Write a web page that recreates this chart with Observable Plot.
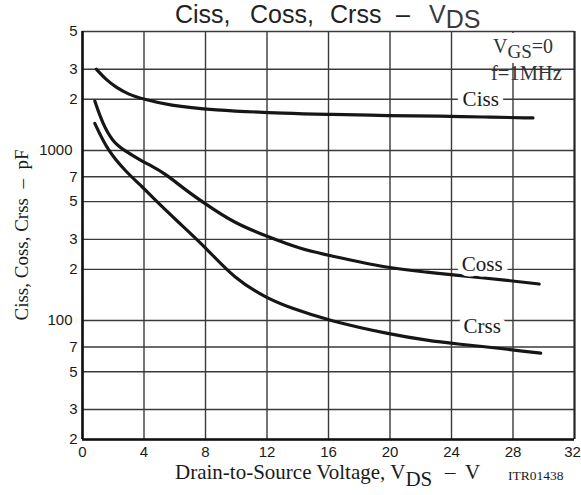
<!DOCTYPE html>
<html><head><meta charset="utf-8">
<script src="https://cdn.jsdelivr.net/npm/d3@7"></script>
<script src="https://cdn.jsdelivr.net/npm/@observablehq/plot@0.6"></script>
<style>
body{margin:0;background:#fff;}
#wrap{position:relative;width:581px;height:495px;overflow:hidden;background:#fff;}
#wrap svg{position:absolute;left:0;top:0;}
.ov{position:absolute;white-space:pre;color:#1a1a1a;line-height:1;}
.serif{font-family:"Liberation Serif","Times New Roman",serif;}
.sans{font-family:"Liberation Sans",Arial,sans-serif;}
.sb{position:relative;top:0.33em;font-size:1em;}
.sb2{position:relative;top:0.28em;font-size:0.95em;}
</style></head><body><div id="wrap"></div>
<script>
// tick values and labels
const xTicks = [0,4,8,12,16,20,24,28,32];
const yTicks = [20,30,50,70,100,200,300,500,700,1000,2000,3000,5000];
const yTickLabels = ["2","3","5","7","100","2","3","5","7","1000","2","3","5"];

// Ciss
const cissV = [0.9,1.5,2.17,3,4,5.65,8.3,13.5,16,20,23.3,26,29.3];
const cissC = [3000,2620,2350,2130,2000,1840,1730,1645,1630,1600,1590,1572,1552];
// Coss
const cossV = [0.8,1.3,1.95,2.7,4,4.4,5.4,6.6,8,9.85,12,14.2,16,20,22.6,24,28,29.7];
const cossC = [1950,1443,1130,1000,851,820,728,595,484,375,312,263,242,202,192,186,171,164];
// Crss
const crssV = [0.8,1.63,2.8,4,4.43,6.16,8,9.85,12,13.5,16,20,22.6,24,28,29.8];
const crssC = [1443,1000,753,598,543,384,270,177,135,119,100,83,76,73.5,67.4,64.3];

// curve labels
const curveNames = ["Ciss","Coss","Crss"];
const labelV = [25.9,26.0,26.0];
const labelC = [2000,214,92];

const toRows = (vs, cs) => vs.map((v,i)=>({v, c: cs[i]}));
const labels = curveNames.map((n,i)=>({n, v: labelV[i], c: labelC[i]}));
const yLab = yTicks.map((t,i)=>({t, s: yTickLabels[i]}));

const lineOpts = {x:"v", y:"c", stroke:"#161616", strokeWidth:3.2, curve:"basis"};
const sans = "'Liberation Sans', Arial, sans-serif";
const serif = "'Liberation Serif', 'Times New Roman', serif";
const tickText = {fontSize:15, fontFamily: sans, fill:"#1a1a1a"};

const chart = Plot.plot({
  width: 581, height: 495,
  marginLeft: 82, marginRight: 7, marginTop: 31, marginBottom: 56,
  style: {fontFamily: sans, fontSize: "15px", color: "#1a1a1a", background: "transparent", overflow: "visible"},
  x: {domain: [0,32], axis: null},
  y: {type: "log", domain: [20,5000], axis: null},
  marks: [
    Plot.ruleX(xTicks, {stroke: "#3a3a3a", strokeWidth: 1.4}),
    Plot.ruleY(yTicks, {stroke: "#3a3a3a", strokeWidth: 1.4}),
    Plot.ruleX([32], {stroke: "#222", strokeWidth: 2}),
    Plot.ruleX([0], {stroke: "#111", strokeWidth: 2.6}),
    Plot.ruleY([20], {stroke: "#111", strokeWidth: 2.6}),
    // y tick labels
    Plot.text(yLab.filter(d => d.s.length === 1), {y:"t", text:"s", frameAnchor:"left", textAnchor:"end", dx:-5, ...tickText}),
    Plot.text(yLab.filter(d => d.s.length > 1), {y:"t", text:"s", frameAnchor:"left", textAnchor:"end", dx:-10, ...tickText}),
    // x tick labels
    Plot.text(xTicks.filter(t => t < 32), {x: d => d, text: d => String(d), frameAnchor:"bottom", lineAnchor:"top", dy:7, ...tickText}),
    Plot.text(xTicks.filter(t => t === 32), {x: d => d, text: d => String(d), frameAnchor:"bottom", lineAnchor:"top", dy:7, dx:-2, ...tickText}),
    Plot.line(toRows(cissV, cissC), lineOpts),
    Plot.line(toRows(cossV, cossC), lineOpts),
    Plot.line(toRows(crssV, crssC), lineOpts),
    Plot.text(labels, {x:"v", y:"c", text:"n", fontFamily: serif,
      fontSize: 21, fill:"#1a1a1a", stroke:"white", strokeWidth: 11})
  ]
});
const wrap = document.getElementById("wrap");
wrap.appendChild(chart);

function ov(html, cls, style){
  const d = document.createElement("div");
  d.className = "ov " + cls;
  d.innerHTML = html;
  Object.assign(d.style, style);
  wrap.appendChild(d);
  return d;
}
// white patch behind the condition text (hides grid as in the reference)
ov('', "", {left:"489px", top:"33px", width:"76px", height:"30px", background:"#fff"});
// title, word by word
const tSty = {top:"2px", fontSize:"25px", color:"#222"};
ov('Ciss,', "sans", {...tSty, left:"175px"});
ov('Coss,', "sans", {...tSty, left:"250px"});
ov('Crss', "sans", {...tSty, left:"330px"});
ov('–', "sans", {...tSty, left:"396px"});
ov('V<span class="sb" style="top:0.2em">DS</span>', "sans", {...tSty, left:"429px", color:"#3a3a3a"});
// condition text
ov('V<span class="sb2">GS</span>=0', "serif", {left:"493px", top:"36px", fontSize:"20px", color:"#333"});
ov('f=1MHz', "serif", {left:"491px", top:"63px", fontSize:"20.5px", color:"#333"});
// y label
ov('Ciss, Coss, Crss  –  pF', "serif", {left:"21px", top:"235px", fontSize:"19px", transform:"translate(-50%,-50%) rotate(-90deg)"});
// x label
ov('Drain-to-Source Voltage, V<span class="sb">DS</span>', "serif", {left:"175px", top:"462px", fontSize:"21px"});
ov('–', "serif", {left:"445px", top:"462px", fontSize:"21px"});
ov('V', "serif", {left:"465px", top:"462px", fontSize:"21px"});
ov('ITR01438', "serif", {left:"508px", top:"469px", fontSize:"13.5px"});
</script></body></html>
